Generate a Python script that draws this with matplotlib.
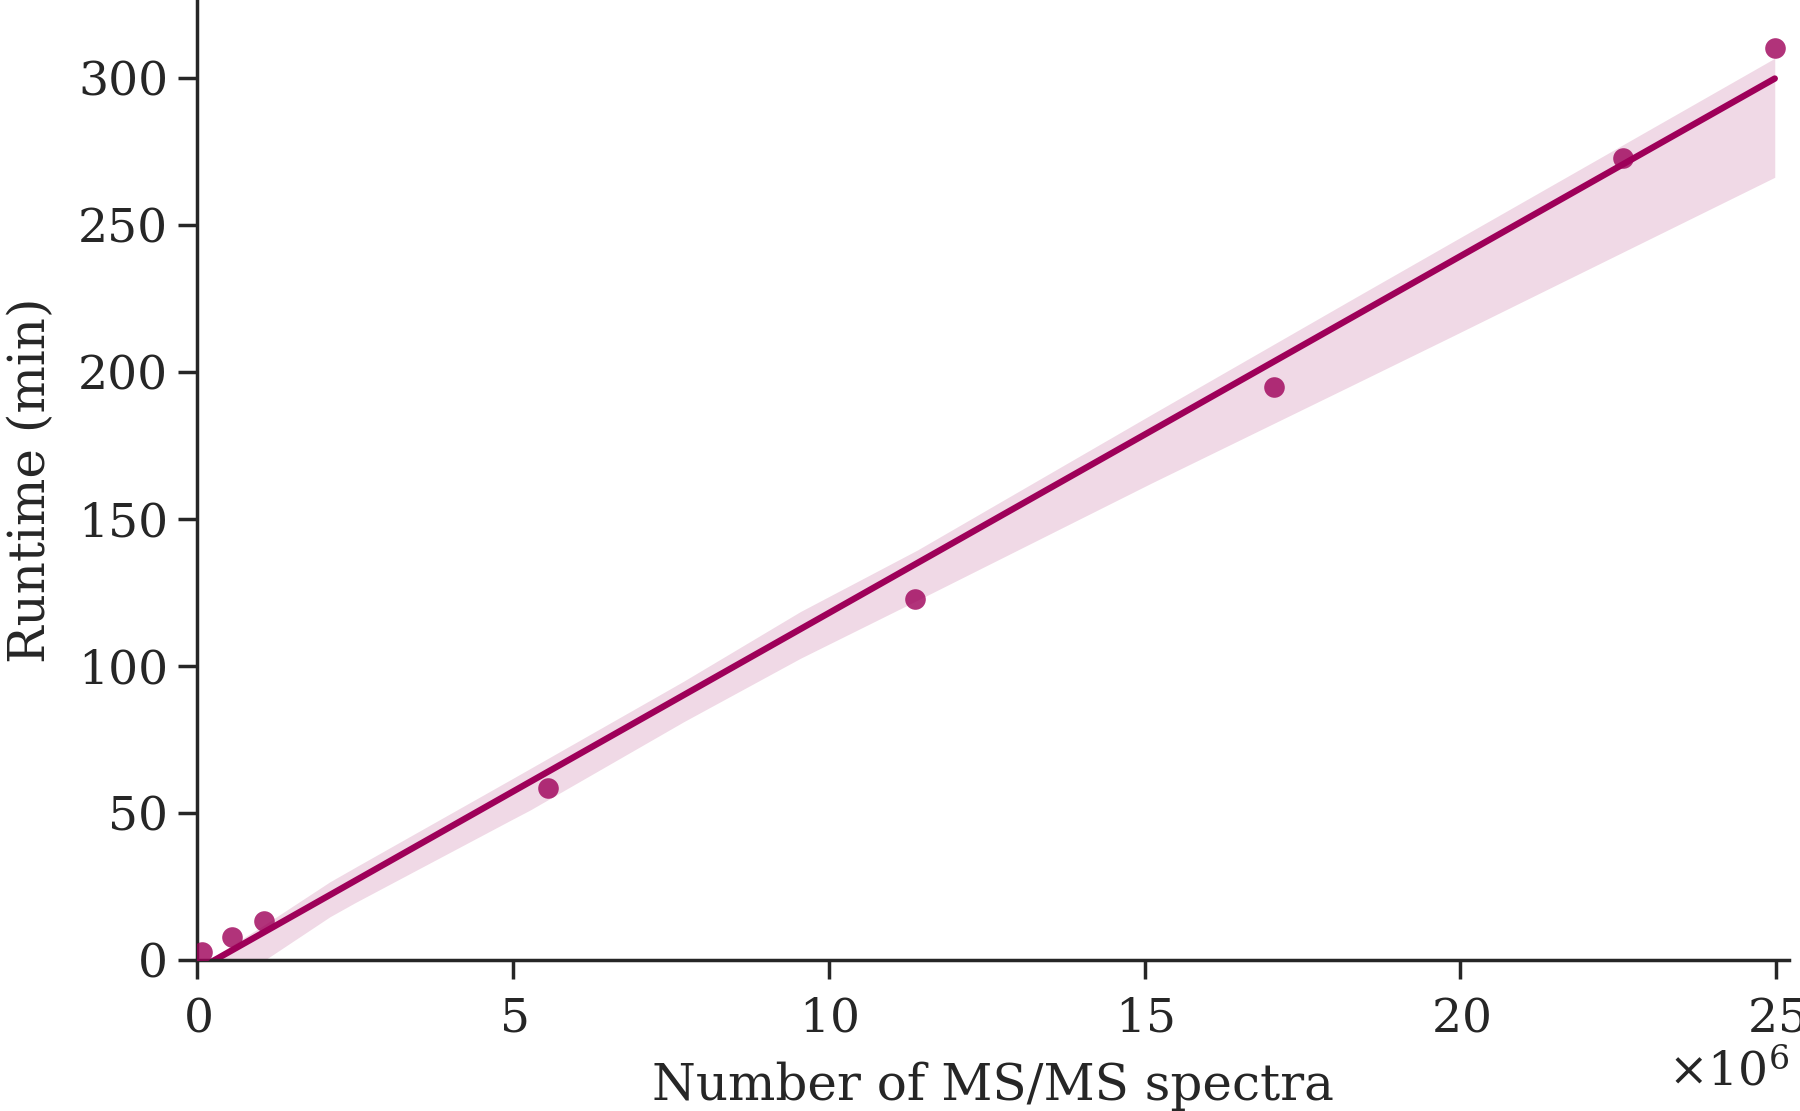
import numpy as np
import matplotlib
matplotlib.use('Agg')
import matplotlib.pyplot as plt
import matplotlib.ticker as mticker
import seaborn as sns

# measured runs
spectra = np.array([0.07, 0.55, 1.06, 5.55, 11.37, 17.05, 22.58, 24.98]) * 1e6
runtime = np.array([2.7, 7.8, 13.3, 58.6, 122.7, 194.9, 272.7, 310.2])

# confidence band edges
band_x = np.array([0.07, 1.07, 2.1, 2.5, 4.95, 5.27, 7.7, 9.55, 11.4, 15.1, 18.27, 19.86, 24.98]) * 1e6
band_lower = np.array([-14.3, 0.0, 14.7, 19.5, 47.4, 51.0, 81.0, 102.6, 122.3, 162.1, 195.3, 212.0, 266.2])
band_upper = np.array([-1.5, 12.1, 26.6, 31.5, 61.2, 65.1, 94.8, 118.5, 139.4, 185.4, 224.5, 244.0, 306.7])

color = '#9e0059'

sns.set_theme(style='ticks', context='notebook', font_scale=1.5)
plt.rcParams['font.family'] = ['DejaVu Serif']
plt.rcParams['mathtext.fontset'] = 'dejavuserif'
plt.rcParams['xtick.labelsize'] = 17
plt.rcParams['ytick.labelsize'] = 17

fig = plt.figure(figsize=(9, 5.555), dpi=200)
ax = fig.add_axes([0.1097, 0.136, 0.884, 0.864])

# linear fit of runtime vs spectra
slope, intercept = np.polyfit(spectra, runtime, 1)
xs = np.linspace(spectra.min(), spectra.max(), 100)

ax.fill_between(band_x, band_lower, band_upper, color=color, alpha=0.15, lw=0)
ax.scatter(spectra, runtime, s=55, color=color, alpha=0.8, lw=0, zorder=3)
ax.plot(xs, slope * xs + intercept, color=color, lw=2.3, solid_capstyle='round', zorder=2)

ax.set_xlim(0, 25.2e6)
ax.set_ylim(0, 326.5)
ax.xaxis.set_major_locator(mticker.MultipleLocator(5e6))
fmt = mticker.ScalarFormatter(useMathText=True)
fmt.set_powerlimits((6, 6))
ax.xaxis.set_major_formatter(fmt)
ax.tick_params(axis='both', length=7)
ax.tick_params(axis='x', pad=6)

ax.set_xlabel('Number of MS/MS spectra')
ax.set_ylabel('Runtime (min)')
ax.xaxis.set_label_coords(0.5, -0.106)
ax.yaxis.set_label_coords(-0.089, 0.5)
sns.despine(ax=ax)

fig.savefig('out.png', dpi=200)
